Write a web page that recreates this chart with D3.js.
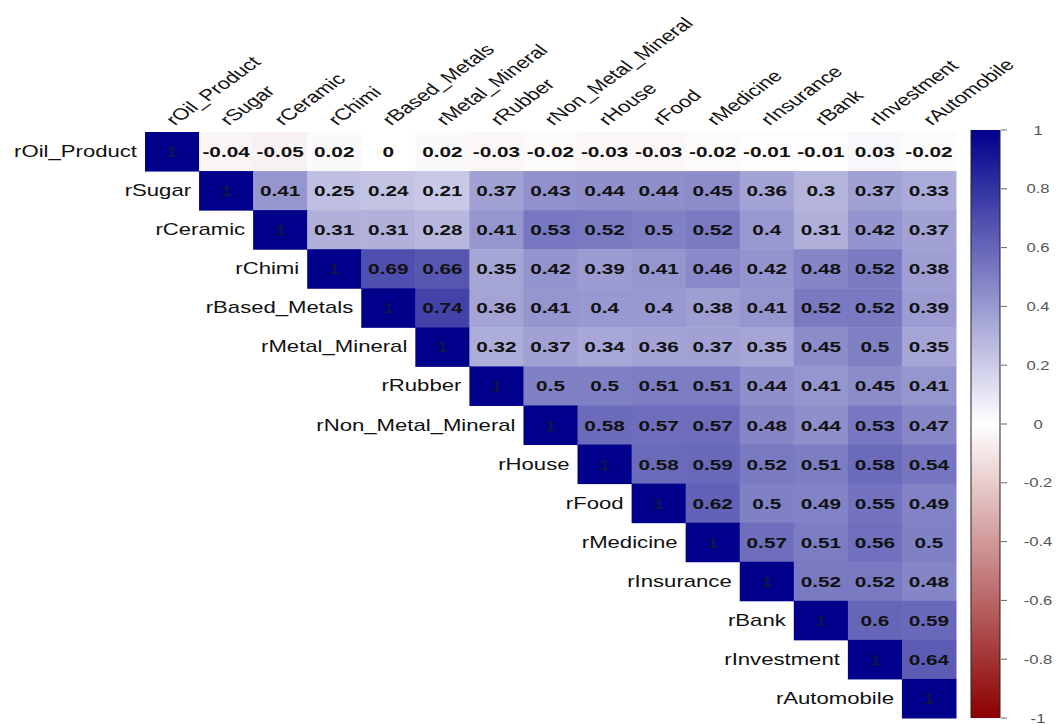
<!DOCTYPE html>
<html>
<head>
<meta charset="utf-8">
<script src="https://cdn.jsdelivr.net/npm/d3@7/dist/d3.min.js"></script>
<style>
  html, body { margin: 0; padding: 0; background: #ffffff; }
  svg { display: block; }
  text { font-family: "Liberation Sans", Arial, sans-serif; }
</style>
</head>
<body>
<svg id="chart" width="1056" height="724"></svg>
<script>
// Variables of the correlation matrix (row / column order)
const variables = [
  "rOil_Product", "rSugar", "rCeramic", "rChimi", "rBased_Metals",
  "rMetal_Mineral", "rRubber", "rNon_Metal_Mineral", "rHouse", "rFood",
  "rMedicine", "rInsurance", "rBank", "rInvestment", "rAutomobile"
];

// Upper-triangle correlations: row i holds the values for columns i+1 .. n-1
const corrUpper = [
  [-0.04, -0.05, 0.02, 0, 0.02, -0.03, -0.02, -0.03, -0.03, -0.02, -0.01, -0.01, 0.03, -0.02],
  [0.41, 0.25, 0.24, 0.21, 0.37, 0.43, 0.44, 0.44, 0.45, 0.36, 0.3, 0.37, 0.33],
  [0.31, 0.31, 0.28, 0.41, 0.53, 0.52, 0.5, 0.52, 0.4, 0.31, 0.42, 0.37],
  [0.69, 0.66, 0.35, 0.42, 0.39, 0.41, 0.46, 0.42, 0.48, 0.52, 0.38],
  [0.74, 0.36, 0.41, 0.4, 0.4, 0.38, 0.41, 0.52, 0.52, 0.39],
  [0.32, 0.37, 0.34, 0.36, 0.37, 0.35, 0.45, 0.5, 0.35],
  [0.5, 0.5, 0.51, 0.51, 0.44, 0.41, 0.45, 0.41],
  [0.58, 0.57, 0.57, 0.48, 0.44, 0.53, 0.47],
  [0.58, 0.59, 0.52, 0.51, 0.58, 0.54],
  [0.62, 0.5, 0.49, 0.55, 0.49],
  [0.57, 0.51, 0.56, 0.5],
  [0.52, 0.52, 0.48],
  [0.6, 0.59],
  [0.64],
  []
];

// Colour legend ticks
const legendTicks = [1, 0.8, 0.6, 0.4, 0.2, 0, -0.2, -0.4, -0.6, -0.8, -1];

// Build the cell list: diagonal (1) plus upper triangle
const cells = [];
variables.forEach((rowName, i) => {
  cells.push({ row: rowName, col: rowName, value: 1, diag: true });
  corrUpper[i].forEach((v, k) => {
    cells.push({ row: rowName, col: variables[i + 1 + k], value: v, diag: false });
  });
});

// Plain-hyphen number formatting
const fmt = v => String(v);

const svg = d3.select("#chart");
const stretch = 1.384; // wide glyphs to fit the rectangular cells

const x = d3.scaleBand().domain(variables).range([145, 956]);
const y = d3.scaleBand().domain(variables).range([132, 718]);

const color = d3.scaleLinear()
  .domain([-1, 0, 1])
  .range(["#8B0000", "#FFFFFF", "#00008B"])
  .interpolate(d3.interpolateRgb);

// Cells
svg.append("g")
  .selectAll("rect")
  .data(cells)
  .join("rect")
  .attr("x", d => x(d.col))
  .attr("y", d => y(d.row))
  .attr("width", x.bandwidth() + 0.5)
  .attr("height", y.bandwidth() + 0.5)
  .attr("fill", d => color(d.value));

// Coefficient labels
svg.append("g")
  .selectAll("text")
  .data(cells)
  .join("text")
  .attr("transform", d =>
    `translate(${x(d.col) + x.bandwidth() / 2},${y(d.row) + y.bandwidth() / 2 + 5.5}) scale(${stretch},1)`)
  .attr("text-anchor", "middle")
  .attr("font-size", 15)
  .attr("font-weight", "bold")
  .attr("fill", d => d.diag ? "#12124e" : "#111111")
  .text(d => fmt(d.value));

// Row labels, placed just left of each diagonal cell
svg.append("g")
  .selectAll("text")
  .data(variables)
  .join("text")
  .attr("transform", d =>
    `translate(${x(d) - 8},${y(d) + y.bandwidth() / 2 + 5.5}) scale(${stretch},1)`)
  .attr("text-anchor", "end")
  .attr("font-size", 16)
  .attr("fill", "#111111")
  .text(d => d);

// Column labels, rotated above the grid
svg.append("g")
  .selectAll("text")
  .data(variables)
  .join("text")
  .attr("transform", d =>
    `translate(${x(d) + x.bandwidth() / 2 + 3},${126}) scale(${stretch},1) rotate(-45)`)
  .attr("text-anchor", "start")
  .attr("font-size", 16)
  .attr("fill", "#111111")
  .text(d => d);

// Colour legend
const legendY = d3.scaleLinear().domain([-1, 1]).range([718, 130]);
const defs = svg.append("defs");
const grad = defs.append("linearGradient")
  .attr("id", "corrGradient")
  .attr("x1", 0).attr("y1", 1).attr("x2", 0).attr("y2", 0);
[-1, 0, 1].forEach(v => {
  grad.append("stop")
    .attr("offset", (v + 1) / 2)
    .attr("stop-color", color(v));
});

const legend = svg.append("g");
legend.append("rect")
  .attr("x", 971)
  .attr("y", legendY(1))
  .attr("width", 29)
  .attr("height", legendY(-1) - legendY(1))
  .attr("fill", "url(#corrGradient)");
legend.append("line")
  .attr("x1", 971).attr("x2", 971)
  .attr("y1", legendY(1)).attr("y2", legendY(-1))
  .attr("stroke", "#222").attr("stroke-width", 1);
legend.append("line")
  .attr("x1", 1000).attr("x2", 1000)
  .attr("y1", legendY(1)).attr("y2", legendY(-1))
  .attr("stroke", "#222").attr("stroke-width", 1);

legend.selectAll("line.tick")
  .data(legendTicks)
  .join("line")
  .attr("class", "tick")
  .attr("x1", 1001).attr("x2", 1007)
  .attr("y1", d => legendY(d)).attr("y2", d => legendY(d))
  .attr("stroke", "#666").attr("stroke-width", 1);

legend.selectAll("text")
  .data(legendTicks)
  .join("text")
  .attr("transform", d => `translate(1038,${legendY(d) + 4.5}) scale(${stretch},1)`)
  .attr("text-anchor", "middle")
  .attr("font-size", 12)
  .attr("fill", "#555555")
  .text(d => fmt(d));
</script>
</body>
</html>
